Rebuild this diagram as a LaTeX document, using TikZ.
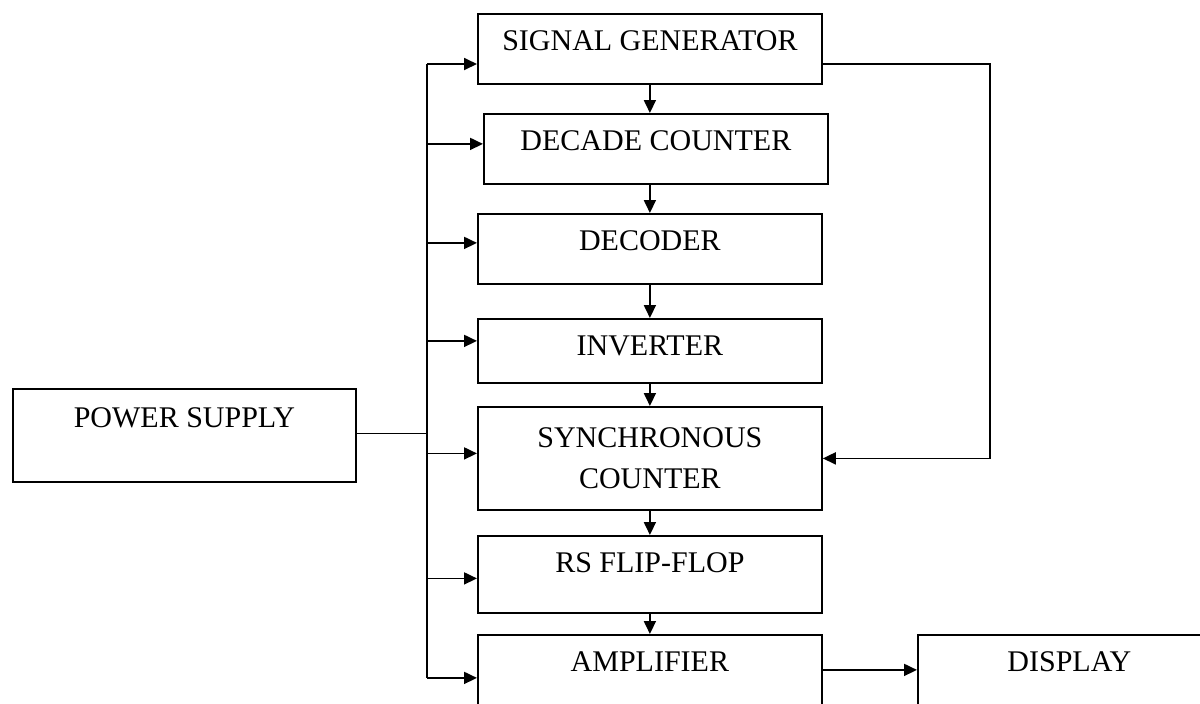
\documentclass[tikz,border=0pt]{standalone}
\usepackage{fontspec}
\setmainfont{Liberation Serif}
\usetikzlibrary{arrows.meta,calc}

\begin{document}
\begin{tikzpicture}[x=0.5pt,y=-0.5pt,
  blk/.style={draw,line width=0.9pt,anchor=north west,inner sep=0pt,minimum width=172pt,
    text height=18.5pt,text depth=#1,font=\fontsize{15}{20.5}\selectfont},
  wire/.style={line width=0.9pt},
  arr/.style={wire,-{Triangle[length=6.5pt,width=6pt]}}]
  \useasboundingbox (0,0) rectangle (1200,703);
  \clip (0,0) rectangle (1200,703);
  % blocks
  \node[blk=16.5pt] (siggen) at (477,13) {SIGNAL GENERATOR};
  \node[blk=16.5pt] (decade) at (483,113) {DECADE COUNTER};
  \node[blk=16.5pt] (decoder) at (477,213) {DECODER};
  \node[blk=13.5pt] (inverter) at (477,318) {INVERTER};
  \node[blk={},text height={},minimum height=51.5pt,align=center] (sync) at (477,406) {SYNCHRONOUS\\COUNTER};
  \node[blk=20pt] (rsff) at (477,535) {RS FLIP-FLOP};
  \node[blk=24.5pt] (amp) at (477,634) {AMPLIFIER};
  \node[blk=24.5pt,minimum width=151.5pt] (display) at (917,634) {DISPLAY};
  \node[blk=27pt,text height=19.5pt,minimum width=171.5pt] (power) at (12,388) {POWER SUPPLY};
  % supply bus
  \coordinate (bustop) at (427,64);
  \coordinate (fbtop) at (990,64);
  \draw[wire] ([yshift=1pt]power.east) -- ([yshift=1pt]bustop |- power.east);
  \draw[wire] (bustop) -- (bustop |- amp.west);
  \draw[arr] (bustop) -- (siggen.west |- bustop);
  \foreach \b/\dy in {decade/2.5pt,decoder/3pt,inverter/5pt,sync/2.5pt,rsff/-2pt,amp/0pt}
    \draw[arr] ([yshift=\dy]bustop |- \b.west) -- ([yshift=\dy]\b.west);
  % signal chain
  \foreach \a/\b in {siggen/decade,decade/decoder,decoder/inverter,inverter/sync,sync/rsff,rsff/amp}
    \draw[arr] (\a.south -| siggen.south) -- (\b.north -| siggen.south);
  \draw[arr] (siggen.east |- fbtop) -- (fbtop) |- (sync.east);
  \draw[arr] ([yshift=4pt]amp.east) -- ([yshift=4pt]amp.east -| display.west);
\end{tikzpicture}
\end{document}
